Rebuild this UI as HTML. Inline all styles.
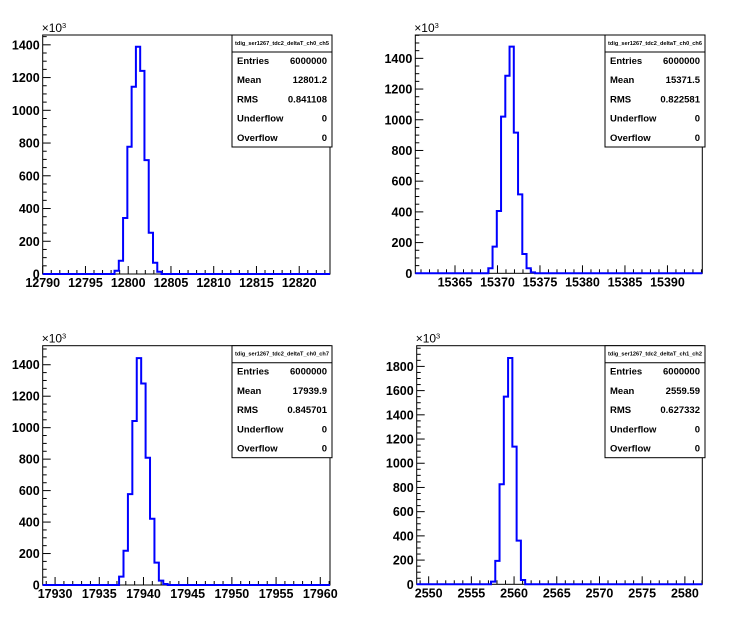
<!DOCTYPE html>
<html><head><meta charset="utf-8"><style>
html,body{margin:0;padding:0;background:#fff;}
svg{display:block;font-family:"Liberation Sans",Arial,sans-serif;}
</style></head><body>
<svg id="c" width="746" height="622" viewBox="0 0 746 622" xmlns="http://www.w3.org/2000/svg"></svg>
<script>
// Panel 1 data
const p1Counts = [20,81,342,777,1144,1388,1241,696,252,69,14];
const p1Start = 12798.4;
const p1Ticks = [12790,12795,12800,12805,12810,12815,12820];
const p1YTicks = [0,200,400,600,800,1000,1200,1400];
const p1Stats = ["6000000","12801.2","0.841108","0","0"];
// Panel 2 data
const p2Counts = [33,174,406,1020,1287,1476,916,514,126,33,6];
const p2Start = 15368.92;
const p2Ticks = [15365,15370,15375,15380,15385,15390];
const p2YTicks = [0,200,400,600,800,1000,1200,1400];
const p2Stats = ["6000000","15371.5","0.822581","0","0"];
// Panel 3 data
const p3Counts = [53,218,578,1042,1442,1281,809,421,142,28,6];
const p3Start = 17937.24;
const p3Ticks = [17930,17935,17940,17945,17950,17955,17960];
const p3YTicks = [0,200,400,600,800,1000,1200,1400];
const p3Stats = ["6000000","17939.9","0.845701","0","0"];
// Panel 4 data
const p4Counts = [22,193,826,1550,1869,1137,361,36];
const p4Start = 2557.3;
const p4Ticks = [2550,2555,2560,2565,2570,2575,2580];
const p4YTicks = [0,200,400,600,800,1000,1200,1400,1600,1800];
const p4Stats = ["6000000","2559.59","0.627332","0","0"];
const binWidth = 0.5;
const statLabels = ["Entries","Mean","RMS","Underflow","Overflow"];

const NS="http://www.w3.org/2000/svg";
const svg=document.getElementById('c');
function mk(tag,attrs,parent){const e=document.createElementNS(NS,tag);for(const k in attrs)e.setAttribute(k,attrs[k]);(parent||svg).appendChild(e);return e;}

function panel(cfg){
  const g=mk('g',{});
  
  
  const L=cfg.L,R=cfg.R,T=cfg.T,B=cfg.B;
  const xs=v=>L+(v-cfg.xmin)/(cfg.xmax-cfg.xmin)*(R-L);
  const ys=v=>B-v/cfg.ymax*(B-T);
  const fr=mk('rect',{x:L,y:T,width:R-L,height:B-T,fill:'none',stroke:'#000','stroke-width':1},g);
  
  
  for(let v=Math.ceil(cfg.xmin);v<=cfg.xmax;v++){
    const major=(v%5===0);
    const t=mk('line',{x1:xs(v),x2:xs(v),y1:B,y2:B-(major?8:4),stroke:'#000'},g);
    
    
  }
  cfg.xt.forEach(v=>{
    const t=mk('text',{x:xs(v),y:B+13,'text-anchor':'middle','font-size':12.5,'font-weight':'bold'},g);
    t.textContent=v;
    
    
  });
  for(let v=0;v<=cfg.ymax;v+=50){
    const major=(v%200===0);
    const t=mk('line',{x1:L,x2:L+(major?8:4),y1:ys(v),y2:ys(v),stroke:'#000'},g);
    
    
  }
  cfg.yt.forEach(v=>{
    const t=mk('text',{x:L-3,y:ys(v)+4.5,'text-anchor':'end','font-size':12.5,'font-weight':'bold'},g);
    t.textContent=v;
    
    
  });
  const ex=mk('text',{x:L-1,y:T-3,'font-size':12},g);
  ex.innerHTML='×10<tspan font-size="7.5" dy="-4">3</tspan>';
  
  
  let d='M'+L+','+ys(0)+' L'+xs(cfg.start)+','+ys(0);
  cfg.counts.forEach((c,i)=>{
    const x0=xs(cfg.start+i*binWidth),x1=xs(cfg.start+(i+1)*binWidth);
    d+=' L'+x0+','+ys(c)+' L'+x1+','+ys(c);
  });
  d+=' L'+xs(cfg.start+cfg.counts.length*binWidth)+','+ys(0)+' L'+R+','+ys(0);
  const p=mk('path',{d:d,fill:'none',stroke:'#0000ff','stroke-width':2},g);
  
  
  const sb=mk('g',{},g);
  
  
  const bx=cfg.bx,by=T,bw=100,bh=112;
  mk('rect',{x:bx,y:by,width:bw,height:bh,fill:'#fff',stroke:'#000'},sb);
  mk('line',{x1:bx,x2:bx+bw,y1:by+17,y2:by+17,stroke:'#000'},sb);
  const tt=mk('text',{x:bx+bw/2,y:by+10,'text-anchor':'middle','font-size':5.6,'font-weight':'bold'},sb);
  tt.textContent=cfg.title;
  
  
  statLabels.forEach((s,i)=>{
    const yy=by+29+i*19.2;
    const a=mk('text',{x:bx+5,y:yy,'font-size':9.5,'font-weight':'bold'},sb);
    a.textContent=s;
    
    
    const b=mk('text',{x:bx+bw-5,y:yy,'font-size':9.5,'font-weight':'bold','text-anchor':'end'},sb);
    b.textContent=cfg.stats[i];
    
    
  });
}
panel({name:'panel-ch0-ch5',L:42.7,R:330,T:35,B:274,xmin:12790,xmax:12823.6,ymax:1460,start:p1Start,counts:p1Counts,xt:p1Ticks,yt:p1YTicks,stats:p1Stats,bx:232,title:'tdig_ser1267_tdc2_deltaT_ch0_ch5'});
panel({name:'panel-ch0-ch6',L:415.3,R:702.3,T:35,B:273.3,xmin:15360.33,xmax:15394.1,ymax:1552,start:p2Start,counts:p2Counts,xt:p2Ticks,yt:p2YTicks,stats:p2Stats,bx:605,title:'tdig_ser1267_tdc2_deltaT_ch0_ch6'});
panel({name:'panel-ch0-ch7',L:42.7,R:330,T:345.7,B:585,xmin:17928.6,xmax:17961.1,ymax:1521,start:p3Start,counts:p3Counts,xt:p3Ticks,yt:p3YTicks,stats:p3Stats,bx:232,title:'tdig_ser1267_tdc2_deltaT_ch0_ch7'});
panel({name:'panel-ch1-ch2',L:416.7,R:702.3,T:345.7,B:584.3,xmin:2548.6,xmax:2582.04,ymax:1971,start:p4Start,counts:p4Counts,xt:p4Ticks,yt:p4YTicks,stats:p4Stats,bx:605,title:'tdig_ser1267_tdc2_deltaT_ch1_ch2'});
</script>
</body></html>
